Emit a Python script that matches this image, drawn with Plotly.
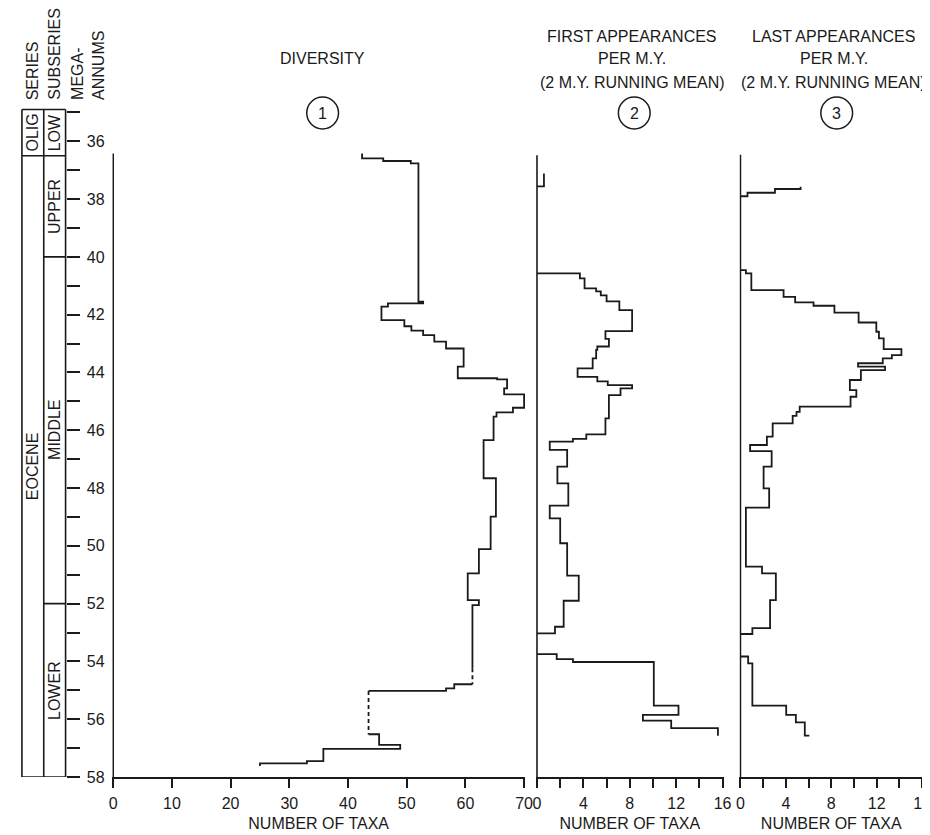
import plotly.graph_objects as go

# ---------------- data ----------------
# Step curves: each value holds from its Ma down to the next point's Ma.
div_taxa = [42.4, 46.0, 50.7, 52.0, 52.8, 46.8, 45.7, 49.6, 50.8, 52.8, 54.7, 56.7, 59.7, 58.7,
            65.4, 67.1, 66.6, 70.0, 68.1, 65.3, 64.8, 63.1, 65.2, 64.3, 62.3, 60.4, 62.3, 61.2, 61.2,
            None, 61.2, 58.1, 56.7, 43.5,
            None, 43.5, 45.3, 48.9, 35.8, 33.0, 25.0, 25.0]
div_ma = [36.42, 36.59, 36.68, 36.76, 41.55, 41.61, 41.72, 42.19, 42.40, 42.55, 42.71, 42.93, 43.17, 43.80,
          44.20, 44.24, 44.55, 44.76, 45.22, 45.38, 45.53, 46.34, 47.66, 48.99, 50.11, 50.95, 51.88, 52.05, 54.24,
          None, 54.79, 54.79, 54.93, 55.02,
          None, 56.52, 56.52, 56.89, 57.03, 57.45, 57.53, 57.62]
div_dash_taxa = [61.2, 61.2, None, 43.5, 43.5]
div_dash_ma = [54.24, 54.79, None, 55.02, 56.52]

fa_rate = [0.6, 0.0, None,
           0.0, 3.7, 4.1, 5.1, 5.5, 6.0, 7.1, 8.2, 5.9, 6.2,
           5.2, 5.1, 4.8, 3.5, 5.2, 6.1, 8.2, 7.2, 6.2, 5.9,
           4.25, 3.1, 1.1, 2.6, 1.76, 2.7, 1.1, 2.0, 2.6, 3.6,
           2.3, 1.55, 0.0, None,
           0.0, 1.7, 3.1, 10.07, 12.2, 9.13, 11.57, 15.6, 15.6]
fa_ma = [37.11, 37.56, None,
         40.57, 40.57, 40.74, 41.09, 41.19, 41.33, 41.54, 41.84, 42.57, 42.84,
         43.10, 43.22, 43.51, 43.86, 44.15, 44.31, 44.44, 44.55, 44.78, 45.59,
         46.14, 46.30, 46.39, 46.68, 47.26, 47.84, 48.61, 49.05, 49.91, 51.03,
         51.90, 52.80, 53.03, None,
         53.75, 53.75, 53.92, 54.02, 55.53, 55.85, 56.05, 56.31, 56.57]

la_rate = [5.3, 3.04, 0.62, 0.0, None,
           0.0, 0.48, 0.96, 3.8, 4.82, 6.44, 8.28, 10.41, 11.97, 12.2,
           12.62, 14.18, 13.34, 12.54, 10.36, 12.74, 10.61, 9.64, 10.21, 9.7,
           5.22, 4.94, 4.6, 2.84, 2.33, 0.85, 2.75, 2.04, 2.53, 0.48,
           1.9, 3.12, 2.61, 1.05, 0.0, None,
           0.0, 0.68, 1.05, 4.03, 4.88, 5.67, 6.07]
la_ma = [37.57, 37.65, 37.78, 37.90, None,
         40.46, 40.46, 40.57, 41.15, 41.38, 41.57, 41.69, 41.93, 42.27, 42.59,
         42.82, 43.19, 43.40, 43.51, 43.68, 43.80, 43.92, 44.26, 44.61, 44.84,
         45.18, 45.36, 45.50, 45.76, 46.22, 46.51, 46.72, 47.26, 48.01, 48.68,
         50.72, 50.95, 51.88, 52.85, 53.05, None,
         53.83, 53.83, 54.07, 55.53, 55.85, 56.11, 56.57]

# top of the zero (baseline) line of each panel, Ma
zero_top = [36.42, 36.48, 36.46]
ma_bottom = 58

# stratigraphy
series_names = ["OLIG", "EOCENE"]
series_bounds = [34.9, 36.5, 58]
subseries_names = ["LOW", "UPPER", "MIDDLE", "LOWER"]
subseries_bounds = [34.9, 36.5, 40, 52, 58]

# axis ticks
ma_ticks = list(range(35, 59))
ma_labels = [str(v) if v % 2 == 0 else "" for v in ma_ticks]
div_ticks = [0, 10, 20, 30, 40, 50, 60, 70]
rate_ticks = [0, 2, 4, 6, 8, 10, 12, 14, 16]
rate_labels = ["0", "", "4", "", "8", "", "12", "", "16"]

panel_titles = [["DIVERSITY"],
                ["FIRST APPEARANCES", "PER M.Y.", "(2 M.Y. RUNNING MEAN)"],
                ["LAST APPEARANCES", "PER M.Y.", "(2 M.Y. RUNNING MEAN)"]]
panel_numbers = ["1", "2", "3"]
x_title = "NUMBER OF TAXA"

# ---------------- layout geometry (pixels) ----------------
W, H = 930, 835
ML, MR, MT, MB = 0, 4, 90, 66
PW = W - ML - MR
PH = H - MT - MB
FONT = "Liberation Sans, Arial, Helvetica, sans-serif"
INK = "#1a1a1a"
LW = 1.8


def xp(p):
    return (p - ML) / PW


def yp(p):
    return (H - MB - p) / PH


panels = [  # (left px, right px, max value)
    (103, 517, 70),
    (530, 717, 16),
    (735, 918, 16),
]

fig = go.Figure()
line_style = dict(color=INK, width=LW, shape="vh")

# baselines (zero lines)
for i, ax in enumerate(["x", "x2", "x3"]):
    fig.add_trace(go.Scatter(x=[0, 0], y=[zero_top[i], ma_bottom], xaxis=ax, yaxis="y",
                             mode="lines", line=dict(color=INK, width=1.6), hoverinfo="skip"))

fig.add_trace(go.Scatter(x=div_taxa, y=div_ma, xaxis="x", yaxis="y", mode="lines",
                         line=line_style, connectgaps=False, hoverinfo="skip"))
fig.add_trace(go.Scatter(x=div_dash_taxa, y=div_dash_ma, xaxis="x", yaxis="y", mode="lines",
                         line=dict(color=INK, width=LW, dash="4px,3px"), connectgaps=False,
                         hoverinfo="skip"))
fig.add_trace(go.Scatter(x=fa_rate, y=fa_ma, xaxis="x2", yaxis="y", mode="lines",
                         line=line_style, connectgaps=False, hoverinfo="skip"))
fig.add_trace(go.Scatter(x=la_rate, y=la_ma, xaxis="x3", yaxis="y", mode="lines",
                         line=line_style, connectgaps=False, hoverinfo="skip"))

# stratigraphic column drawn on an auxiliary pixel-unit x axis (x4)
COL = [11, 33, 55]
sx, sy = [], []
for c in COL:
    sx += [c, c, None]
    sy += [series_bounds[0], series_bounds[-1], None]
for b in [series_bounds[0], series_bounds[1], series_bounds[-1]]:
    sx += [COL[0], COL[2], None]
    sy += [b, b, None]
for b in subseries_bounds[2:-1]:
    sx += [COL[1], COL[2], None]
    sy += [b, b, None]
fig.add_trace(go.Scatter(x=sx, y=sy, xaxis="x4", yaxis="y", mode="lines",
                         line=dict(color=INK, width=1.6), hoverinfo="skip"))

annotations = []
for i, name in enumerate(series_names):
    annotations.append(dict(text=name, xref="x4", yref="y", x=(COL[0] + COL[1]) / 2,
                            y=(series_bounds[i] + series_bounds[i + 1]) / 2, textangle=-90,
                            showarrow=False, font=dict(size=16, color=INK)))
for i, name in enumerate(subseries_names):
    annotations.append(dict(text=name, xref="x4", yref="y", x=(COL[1] + COL[2]) / 2,
                            y=(subseries_bounds[i] + subseries_bounds[i + 1]) / 2, textangle=-90,
                            showarrow=False, font=dict(size=16, color=INK)))

# column headers
for text, xc in [("SERIES", 22), ("SUBSERIES", 44), ("MEGA-<br>ANNUMS", 78)]:
    annotations.append(dict(text=text, xref="paper", yref="paper", x=xp(xc), y=yp(94),
                            xanchor="center", yanchor="bottom", textangle=-90, align="left",
                            showarrow=False, font=dict(size=16, color=INK)))

# panel titles and circled numbers
title_x = [314, 626, 829]
circle_x = [314, 628, 832]
line_y = [28, 51, 74]
for i, lines in enumerate(panel_titles):
    rows = [51] if len(lines) == 1 else line_y
    for txt, yc in zip(lines, rows):
        annotations.append(dict(text=txt, xref="paper", yref="paper", x=xp(title_x[i]),
                                y=yp(yc), xanchor="center", yanchor="middle", showarrow=False,
                                font=dict(size=16, color=INK)))
    annotations.append(dict(text=panel_numbers[i], xref="paper", yref="paper",
                            x=xp(circle_x[i]), y=yp(105), xanchor="center", yanchor="middle",
                            showarrow=False, font=dict(size=16, color=INK)))

shapes = []
R = 16
for cx in circle_x:
    shapes.append(dict(type="circle", xref="paper", yref="paper",
                       x0=xp(cx - R), x1=xp(cx + R), y0=yp(105 + R), y1=yp(105 - R),
                       line=dict(color=INK, width=1.5)))


def xaxis_cfg(i, ticks, labels):
    left, right, vmax = panels[i]
    scale = (right - left) / vmax
    pad = 1.0
    return dict(domain=[max(0.0, xp(left - pad)), min(1.0, xp(right + pad))],
                range=[-pad / scale, vmax + pad / scale],
                anchor="y", tickmode="array", tickvals=ticks, ticktext=labels,
                ticks="outside", ticklen=9, tickwidth=1.5, tickcolor=INK,
                showline=True, linecolor=INK, linewidth=1.6,
                showgrid=False, zeroline=False, ticklabelstandoff=2,
                tickfont=dict(size=16, color=INK),
                title=dict(text=x_title, font=dict(size=16, color=INK), standoff=7),
                fixedrange=True)


fig.update_layout(
    width=W, height=H,
    margin=dict(l=ML, r=MR, t=MT, b=MB, pad=0),
    paper_bgcolor="white", plot_bgcolor="white",
    showlegend=False,
    font=dict(family=FONT, size=16, color=INK),
    xaxis=xaxis_cfg(0, div_ticks, [str(v) for v in div_ticks]),
    xaxis2=xaxis_cfg(1, rate_ticks, rate_labels),
    xaxis3=xaxis_cfg(2, rate_ticks, rate_labels),
    xaxis4=dict(domain=[0, xp(100)], range=[0, 100], anchor="y", visible=False,
                fixedrange=True),
    yaxis=dict(range=[58, 34.5], anchor="free", position=xp(55), side="right",
               tickmode="array", tickvals=ma_ticks, ticktext=ma_labels,
               ticks="outside", ticklen=13, tickwidth=1.5, tickcolor=INK,
               showline=False, showgrid=False, zeroline=False,
               ticklabelstandoff=4, tickfont=dict(size=16, color=INK), fixedrange=True),
    annotations=annotations,
    shapes=shapes,
)

fig.write_html("out.html")
